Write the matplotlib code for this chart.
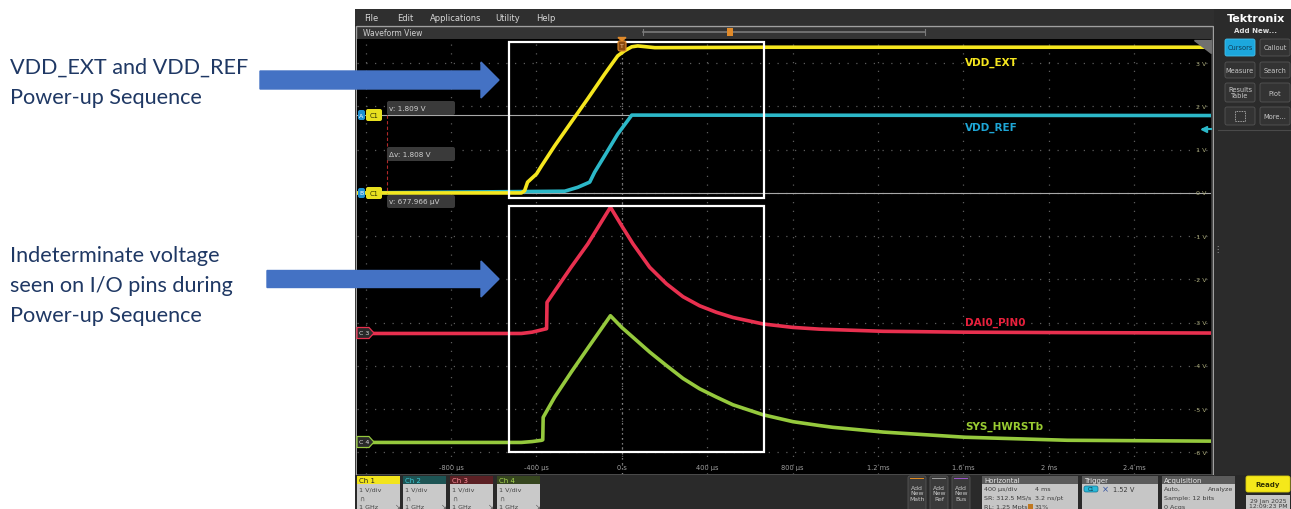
import matplotlib
matplotlib.use('Agg')
import matplotlib.pyplot as plt
from matplotlib.patches import Rectangle, FancyArrow, FancyBboxPatch, Polygon

W, H = 1291, 510

# screen scale: time in microseconds, volts on the 1 V/div graticule
t_ext = [-1240, -470, -455, -441, -399, -375, -314, -236, -159, -80, -19, 14, 47, 75, 155, 700, 2760]
v_ext = [0.0, 0.0, 0.05, 0.25, 0.44, 0.63, 1.09, 1.64, 2.18, 2.75, 3.17, 3.29, 3.38, 3.40, 3.36, 3.37, 3.37]

t_ref = [-1240, -267, -206, -150, -127, -80, -19, 47, 2760]
v_ref = [0.0, 0.04, 0.13, 0.25, 0.48, 0.86, 1.36, 1.80, 1.79]

t_dai = [-1240, -470, -420, -361, -352, -350, -314, -236, -159, -53, 0, 53, 131, 209, 287,
         365, 443, 521, 662, 802, 927, 1224, 1609, 2087, 2760]
v_dai = [-3.25, -3.25, -3.22, -3.15, -3.14, -2.53, -2.27, -1.71, -1.18, -0.33, -0.76, -1.18, -1.72, -2.10, -2.40,
         -2.61, -2.76, -2.88, -3.03, -3.11, -3.15, -3.20, -3.22, -3.23, -3.24]

t_rst = [-1240, -470, -420, -375, -370, -368, -314, -236, -159, -53, 0, 53, 131, 209, 287,
         365, 443, 521, 662, 802, 927, 988, 1224, 1609, 2087, 2760]
v_rst = [-5.77, -5.77, -5.75, -5.72, -5.71, -5.19, -4.72, -4.14, -3.59, -2.84, -3.11, -3.34, -3.68, -3.99, -4.29,
         -4.53, -4.72, -4.90, -5.13, -5.29, -5.38, -5.42, -5.53, -5.65, -5.72, -5.74]

cursor_a = 1.809
cursor_b = 0.000678

time_ticks = [-800, -400, 0, 400, 800, 1200, 1600, 2000, 2400]
time_labels = ['-800 µs', '-400 µs', '0 s', '400 µs', '800 µs', '1.2 ms', '1.6 ms', '2 ms', '2.4 ms']
volt_ticks = [3, 2, 1, 0, -1, -2, -3, -4, -5, -6]

fig = plt.figure(figsize=(W / 100, H / 100), dpi=100)
fig.patch.set_facecolor('white')

# background layer in pixel coordinates
bg = fig.add_axes([0, 0, 1, 1])
bg.set_xlim(0, W)
bg.set_ylim(H, 0)
bg.axis('off')


def box(ax, x0, y0, x1, y1, fc, ec='none', lw=0, z=1, ls='-'):
    ax.add_patch(Rectangle((x0, y0), x1 - x0, y1 - y0, facecolor=fc,
                           edgecolor=ec, linewidth=lw, zorder=z, linestyle=ls))


def rbox(ax, x0, y0, x1, y1, fc, ec='none', lw=0, z=2):
    ax.add_patch(FancyBboxPatch((x0, y0), x1 - x0, y1 - y0,
                                boxstyle='round,pad=0,rounding_size=2',
                                facecolor=fc, edgecolor=ec, linewidth=lw, zorder=z))


# scope screenshot frame
box(bg, 355, 10, W, H, '#272727')
box(bg, 355, 10, W, 26, '#2f2f2f')
for x, s in [(364, 'File'), (397, 'Edit'), (430, 'Applications'), (495, 'Utility'), (536, 'Help')]:
    bg.text(x, 18.5, s, fontsize=6, color='#d8d8d8', va='center')
box(bg, 356, 26.5, 1213, 476, '#343434', ec='#a0a0a0', lw=1)
bg.text(363, 33, 'Waveform View', fontsize=5.5, color='#d0d0d0', va='center')
bg.plot([643, 925], [33, 33], color='#7a7a7a', lw=1.2)
bg.plot([643, 643], [30, 36], color='#7a7a7a', lw=0.8)
bg.plot([925, 925], [30, 36], color='#7a7a7a', lw=0.8)
box(bg, 727, 29, 733, 37, '#e08a2a', z=3)

# right side panel
box(bg, 1214, 10, W, 476, '#2b2b2b')
bg.text(1256, 19, 'Tektronix', fontsize=8, fontweight='bold', color='white', ha='center', va='center')
bg.text(1256, 31, 'Add New...', fontsize=5, fontweight='bold', color='#e0e0e0', ha='center', va='center')
buttons = [(1225, 40, 1255, 57, 'Cursors'), (1260, 40, 1290, 57, 'Callout'),
           (1225, 63, 1255, 79, 'Measure'), (1260, 63, 1290, 79, 'Search'),
           (1225, 84, 1255, 103, 'Results\nTable'), (1260, 84, 1290, 103, 'Plot'),
           (1225, 108, 1255, 126, ''), (1260, 108, 1290, 126, 'More...')]
for x0, y0, x1, y1, s in buttons:
    if s == 'Cursors':
        rbox(bg, x0, y0, x1, y1, '#1ca7dd', ec='#45c0ea', lw=0.6)
        tc = '#0f3a55'
    else:
        rbox(bg, x0, y0, x1, y1, '#333333', ec='#555555', lw=0.6)
        tc = '#c8c8c8'
    bg.text((x0 + x1) / 2, (y0 + y1) / 2, s, fontsize=4.8, color=tc, ha='center',
            va='center', linespacing=1.0)
box(bg, 1235, 112, 1245, 122, 'none', ec='#c8c8c8', lw=0.6, z=3, ls=(0, (1, 1)))
bg.plot([1218, W], [131, 131], color='#4a4a4a', lw=0.8)
bg.text(1217, 250, '⋮', fontsize=6, color='#aaaaaa', ha='center', va='center')

# bottom status bar
box(bg, 355, 476, 1214, H, '#2a2a2a')
channels = [(357, 400, 'Ch 1', '#f2e41c', '#202020'),
            (403, 446, 'Ch 2', '#1d5454', '#3fcbd8'),
            (450, 493, 'Ch 3', '#5b2024', '#ff8c9a'),
            (497, 540, 'Ch 4', '#36461f', '#a8d850')]
for x0, x1, s, hc, tc in channels:
    box(bg, x0, 485, x1, H, '#c9c9c9')
    box(bg, x0, 477, x1, 485, hc)
    bg.text(x0 + 2, 481, s, fontsize=5, color=tc, va='center')
    bg.text(x0 + 2, 490, '1 V/div', fontsize=4.6, color='#444444', va='center')
    bg.text(x0 + 2, 499, '∩', fontsize=5, color='#555555', va='center')
    bg.text(x0 + 2, 508, '1 GHz', fontsize=4.6, color='#444444', va='center')
    bg.text(x1 - 5, 507, '↘', fontsize=5, color='#555555', va='center')

for x0, x1, s, sc in [(908, 926, 'Add\nNew\nMath', '#e08a20'),
                      (930, 948, 'Add\nNew\nRef', '#9a9a9a'),
                      (952, 970, 'Add\nNew\nBus', '#9a55c8')]:
    rbox(bg, x0, 477, x1, 512, '#3a3a3a', ec='#555555', lw=0.6)
    box(bg, x0 + 2, 478.5, x1 - 2, 480, sc, z=3)
    bg.text((x0 + x1) / 2, 494, s, fontsize=4.4, color='#c8c8c8', ha='center', va='center',
            linespacing=1.1, zorder=4)

panels = [(982, 1078, 'Horizontal'), (1082, 1158, 'Trigger'), (1162, 1235, 'Acquisition')]
for x0, x1, s in panels:
    box(bg, x0, 485, x1, H, '#c6c6c6')
    box(bg, x0, 477, x1, 485, '#5b5b5b')
    bg.text(x0 + 2, 481, s, fontsize=5, color='#e8e8e8', va='center')
horiz_rows = [('400 µs/div', '4 ms'), ('SR: 312.5 MS/s', '3.2 ns/pt'), ('RL: 1.25 Mpts', '31%')]
for i, (a, b) in enumerate(horiz_rows):
    bg.text(984, 489.5 + i * 9, a, fontsize=4.6, color='#3c3c3c', va='center')
    bg.text(1035, 489.5 + i * 9, b, fontsize=4.6, color='#3c3c3c', va='center')
box(bg, 1028, 505, 1033, 510, '#c07820', z=3)
rbox(bg, 1084, 487, 1098, 493, '#28b8d8', ec='#107090', lw=0.5, z=3)
bg.text(1091, 490, 'C1', fontsize=3.5, color='#103040', ha='center', va='center', zorder=4)
bg.text(1102, 490, '×', fontsize=6, color='#3050a0', va='center')
bg.text(1113, 490, '1.52 V', fontsize=4.8, color='#3c3c3c', va='center')
bg.text(1164, 489.5, 'Auto,', fontsize=4.6, color='#3c3c3c', va='center')
bg.text(1233, 489.5, 'Analyze', fontsize=4.6, color='#3c3c3c', va='center', ha='right')
bg.text(1164, 498.5, 'Sample: 12 bits', fontsize=4.6, color='#3c3c3c', va='center')
bg.text(1164, 507.5, '0 Acqs', fontsize=4.6, color='#3c3c3c', va='center')
rbox(bg, 1246, 477, 1290, 493, '#f5e81a', ec='#d8cc10', lw=0.6)
bg.text(1268, 485, 'Ready', fontsize=5, fontweight='bold', color='#333300', ha='center', va='center', zorder=4)
box(bg, 1246, 496, 1290, H, '#c6c6c6')
bg.text(1268, 504, '29 Jan 2025\n12:09:23 PM', fontsize=4.4, color='#3c3c3c', ha='center',
        va='center', linespacing=1.0, zorder=4)

# left-hand annotation text
navy = '#1f3864'
for y, s in [(74, 'VDD_EXT and VDD_REF'), (104, 'Power-up Sequence'),
             (262, 'Indeterminate voltage'), (292, 'seen on I/O pins during'),
             (322, 'Power-up Sequence')]:
    bg.text(10, y, s, fontsize=15.6, family='Lato', color=navy, va='baseline')

# waveform graticule
ax = fig.add_axes([357 / W, 1 - 475 / H, 854 / W, 435 / H])
ax.set_facecolor('black')
ax.set_xlim(-1240, 2760)
ax.set_ylim(-6.5, 3.56)
ax.set_xticks(range(-1200, 2761, 400))
ax.set_yticks(volt_ticks)
ax.tick_params(length=0, labelbottom=False, labelleft=False)
ax.grid(True, color='#5c5c5c', linestyle=(0, (1, 6)), linewidth=0.9)
for sp in ax.spines.values():
    sp.set_visible(False)
ax.axvline(0, color='#a0a0a0', linestyle=(0, (1, 3)), linewidth=0.9, zorder=2)
ax.axhline(cursor_a, color='#a8a8a8', linewidth=0.8, zorder=2)
ax.axhline(cursor_b, color='#a8a8a8', linewidth=0.8, zorder=2)

ax.plot(t_rst, v_rst, color='#95c93d', linewidth=2.6, zorder=3)
ax.plot(t_dai, v_dai, color='#e8304f', linewidth=2.6, zorder=3)
ax.plot(t_ref, v_ref, color='#2cb8c8', linewidth=2.6, zorder=3)
ax.plot(t_ext, v_ext, color='#f5e61e', linewidth=2.6, zorder=4)

for v in volt_ticks:
    ax.text(2738, v, f'{v} V', fontsize=4.6, color='#a8a878', ha='right', va='center')
for t, s in zip(time_ticks, time_labels):
    ax.text(t, -6.34, s, fontsize=4.8, color='#a0a0a0', ha='center', va='center')

label_t = 1607
ax.text(label_t, 3.03, 'VDD_EXT', fontsize=7.5, fontweight='bold', color='#f5e61e', va='center')
ax.text(label_t, 1.53, 'VDD_REF', fontsize=7.5, fontweight='bold', color='#1ea6d6', va='center')
ax.text(label_t, -2.98, 'DAI0_PIN0', fontsize=7.5, fontweight='bold', color='#e8203c', va='center')
ax.text(label_t, -5.39, 'SYS_HWRSTb', fontsize=7.5, fontweight='bold', color='#9acd32', va='center')

# highlight boxes drawn over the capture
ax.add_patch(Rectangle((-529, -0.12), 1195, 3.61, fill=False, edgecolor='white', linewidth=1.6, zorder=6))
ax.add_patch(Rectangle((-529, -5.99), 1195, 5.69, fill=False, edgecolor='white', linewidth=1.6, zorder=6))

# overlay layer for markers and arrows
top = fig.add_axes([0, 0, 1, 1])
top.set_xlim(0, W)
top.set_ylim(H, 0)
top.axis('off')
top.patch.set_alpha(0)

# trigger marker
top.add_patch(Polygon([(618, 38.5), (626, 38.5), (622, 42)], color='#e08a2a', zorder=5))
rbox(top, 618, 42, 626, 52, '#8a4a10', ec='#e08a2a', lw=0.8, z=5)
top.text(622, 47, 'T', fontsize=4.5, color='#f0c090', ha='center', va='center', zorder=6)
top.add_patch(Polygon([(1194, 40.5), (1211, 40.5), (1211, 54)], color='#707070', zorder=5))

# cursor readouts and channel badges
top.plot([387, 387], [116, 194], color='#b02828', linestyle=(0, (3, 2)), lw=0.8)
for y0, y1, s in [(102, 116, 'v: 1.809 V'), (148, 162, 'Δv: 1.808 V'), (196, 209, 'v: 677.966 µV')]:
    rbox(top, 387, y0, 455, y1, '#3a3a3a', z=5)
    top.text(389, (y0 + y1) / 2, s, fontsize=5.2, color='#d0d0d0', va='center', zorder=6)
for y, letter in [(116, 'A'), (194, 'B')]:
    rbox(top, 358, y - 5, 365, y + 5, '#1e90d0', z=5)
    top.text(361.5, y, letter, fontsize=4.5, color='white', ha='center', va='center', zorder=6)
    rbox(top, 366, y - 6, 382, y + 6, '#e8e020', z=5)
    top.text(374, y, 'C1', fontsize=4.8, color='#303000', ha='center', va='center', zorder=6)
for y, ec in [(334, '#e8304f'), (443, '#95c93d')]:
    top.add_patch(Polygon([(357, y - 5.5), (369, y - 5.5), (374, y), (369, y + 5.5), (357, y + 5.5)],
                          facecolor='#2a2a2a', edgecolor=ec, linewidth=0.9, zorder=5))
    top.text(364, y, 'C 3' if y == 334 else 'C 4', fontsize=4.5, color='#e0e0e0',
             ha='center', va='center', zorder=6)
top.plot([1203, 1211], [130, 130], color='#2cb8c8', lw=1.5, zorder=5)
top.plot([1204], [130], marker='<', ms=4, color='#2cb8c8', zorder=5)

# blue call-out arrows
arrow_col = '#4472c4'
top.add_patch(FancyArrow(260, 81, 239, 0, width=18, head_width=36, head_length=18,
                         length_includes_head=True, color=arrow_col, zorder=7))
top.add_patch(FancyArrow(267, 280, 232, 0, width=17, head_width=36, head_length=18,
                         length_includes_head=True, color=arrow_col, zorder=7))

fig.savefig('out.png', dpi=100)
